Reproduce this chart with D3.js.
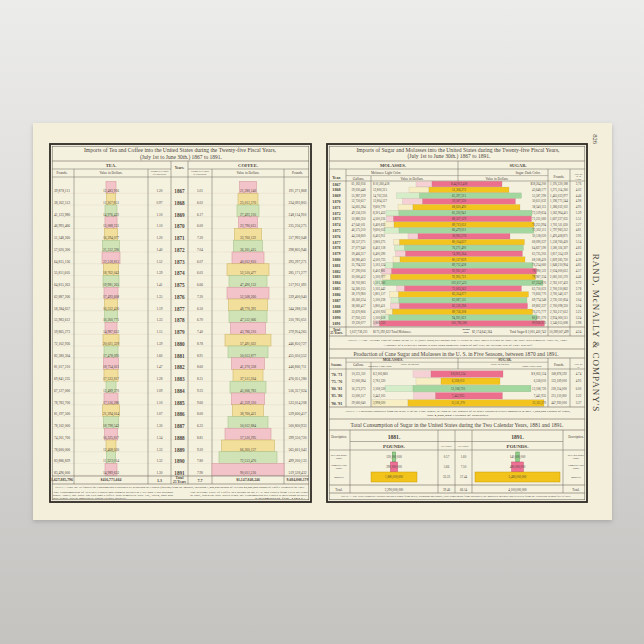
<!DOCTYPE html>
<html>
<head>
<meta charset="utf-8">
<title>Imports of Tea, Coffee, Sugar and Molasses</title>
<style>
  body { margin: 0; background: #d8d7d5; }
  svg { display: block; }
  text { font-family: "Liberation Serif", "DejaVu Serif", serif; }
</style>
</head>
<body>
<div id="chart"></div>
<script src="https://d3js.org/d3.v7.min.js"></script>
<script>
// ---------- data: tea and coffee ----------
var years = [1867, 1868, 1869, 1870, 1871, 1872, 1873, 1874, 1875, 1876, 1877, 1878, 1879,
             1880, 1881, 1882, 1883, 1884, 1885, 1886, 1887, 1888, 1889, 1890, 1891];

var teaPounds = [39878111, 38162513, 41123980, 46993466, 51348260, 57020300, 64815136, 55811605,
                 64815263, 62887206, 58384657, 55983612, 59865273, 72162936, 82380304, 81017210,
                 69841235, 67127000, 78783700, 81197500, 78102000, 74201700, 78600000, 83886829, 83496000];
var teaValue = [12483916, 11307851, 14976422, 15088231, 16294077, 21312596, 22518813, 18762043,
                19981265, 17493608, 16312430, 16260771, 14987653, 20021329, 17478095, 18754021,
                17533817, 12489370, 17516286, 21294014, 18798542, 16325817, 12468030, 11323014, 14989653];
var teaPerCap = ["1.20", "0.97", "1.10", "1.10", "1.20", "1.40", "1.52", "1.39", "1.41", "1.35", "1.19",
                 "1.33", "1.15", "1.39", "1.60", "1.47", "1.28", "1.09", "1.10", "1.07", "1.30", "1.34",
                 "1.33", "1.32", "1.30"];
var coffeeValue = [21280140, 25011370, 27493210, 23790615, 33760122, 36301415, 40012810, 52510477,
                   47490133, 52508260, 48770391, 47512066, 43786210, 57491022, 50013877, 41270338,
                   37511264, 45006783, 41259310, 38760421, 50012884, 57510295, 66260137, 72513470, 90011226];
var coffeePerCap = ["5.01", "6.02", "6.17", "6.00", "7.20", "7.04", "6.07", "6.03", "6.66", "7.20", "6.50",
                    "6.70", "7.40", "8.78", "8.91", "8.60", "8.31", "9.23", "9.60", "8.00", "6.23", "8.81",
                    "9.20", "7.80", "7.90"];
var coffeePounds = [191271868, 234093805, 248114910, 235256275, 317992048, 298805946, 293297271,
                    285171277, 317911093, 339400040, 344288150, 310785051, 379954265, 446850727,
                    455050552, 446860711, 476051280, 516357024, 533014208, 529600417, 500800933,
                    399550720, 565601043, 499200133, 519528432];
var totalPerCap = ["1.3", "7.7"];

// ---------- data: sugar and molasses imports ----------
var molGallons = [61183056, 59030448, 55987259, 52750617, 54605284, 49556130, 50880350, 47040011,
                  46575210, 44558600, 38557371, 37077640, 39466317, 38980403, 35794232, 37290016,
                  30000412, 28702083, 34260155, 38170960, 38360224, 38060417, 33670806, 27950133, 19230077];
var molValue = [10260418, 12800315, 14702236, 12804127, 9600770, 8301452, 4500216, 6400833,
                9600012, 6403911, 3800275, 6402118, 6400590, 4500733, 5103124, 6402881,
                5100977, 5101360, 5102442, 5801117, 5100238, 5800411, 4500926, 5100618, 3800522];
var sugValue = [44912418, 51306273, 65397215, 59587330, 68620493, 85320941, 88507129, 89713052,
                86479031, 58961276, 80104637, 76271490, 74985364, 80127839, 89712438, 92931507,
                92905721, 102617431, 75003562, 83314077, 82087511, 82120396, 89736208, 94931023, 105796380];
var sugDark = [38264200, 43648177, 55587290, 50611032, 58340115, 72519834, 75231060, 76255994,
               73502111, 50118020, 68090337, 64827590, 63735203, 68108420, 76254060, 78990122,
               78967334, 87224870, 63750023, 70816770, 69774348, 69802337, 76275777, 80691370, 89926923];
var sugPounds = [1195320188, 1275114260, 1465023977, 1196771344, 1386032102, 1583904411, 1607227035,
                 1702511630, 1797983312, 1493408871, 1558760420, 1580116307, 1817554119, 1829385720,
                 1848210904, 2034000612, 2081301570, 2762107433, 2700310862, 2700540117, 2730110824,
                 2700098350, 2763217612, 2934000511, 3546055008];
var sugPrice = ["3.76", "4.02", "4.46", "4.98", "4.95", "5.39", "5.51", "5.27", "4.81", "3.95", "5.14",
                "4.83", "4.13", "4.38", "4.85", "4.57", "4.46", "3.72", "2.78", "3.09", "3.04", "3.04",
                "3.25", "3.24", "2.98"];

// ---------- data: cane sugar production ----------
var seasons = ["'70-'71", "'75-'76", "'80-'81", "'85-'86", "'90-'91"];
var prodGallons = [10125110, 12000384, 16573273, 13000517, 29060040];
var prodMolValue = [2003860, 2781330, 3108520, 2442105, 3998020];
var prodSugValue = [8003124, 6558010, 13108720, 7441935, 15111270];
var prodPounds = [168878592, 133109000, 218314000, 231110000, 447930000];
var prodPrice = ["4.74", "4.93", "6.00", "3.22", "3.37"];

// ---------- data: consumption 1881 / 1891 ----------
var consYears = ["1881.", "1891."];
var consCats = ["Beet and Maple Sugar.", "Domestic Cane Sugar.", "Imported."];
var cons1881 = [120000000, 290000000, 1880000000];
var cons1891 = [140000000, 480000000, 3480000000];
var perCap1881 = ["0.57", "5.66", "33.23"];
var perCap1891 = ["1.60", "7.50", "57.44"];
var perCapTotal = ["39.46", "66.54"];

// ---------- page ----------
var width = 644, height = 644;
var ink = "#4a443b";
var fmt = d3.format(",");
var pastel = [["#f2c3c8", "#d79ca4"], ["#f2df9c", "#cdb76a"], ["#d0e3b7", "#a8c58d"]];
var strong = [["#ec6f8d", "#f5d0d5"], ["#f3c41e", "#f7eec4"], ["#a2d79f", "#d6edca"]];

var svg = d3.select('#chart').append('svg')
    .attr('width', width)
    .attr('height', height);

var defs = svg.append('defs');
var bg = defs.append('linearGradient').attr('id', 'bg').attr('x1', 0).attr('y1', 0).attr('x2', 0).attr('y2', 1);
bg.append('stop').attr('offset', '0%').attr('stop-color', '#ececeb');
bg.append('stop').attr('offset', '100%').attr('stop-color', '#c5c3c0');
var sh = defs.append('filter').attr('id', 'shadow').attr('x', '-5%').attr('y', '-5%').attr('width', '110%').attr('height', '115%');
sh.append('feDropShadow').attr('dx', 0).attr('dy', 2).attr('stdDeviation', 2).attr('flood-color', '#888').attr('flood-opacity', 0.5);

svg.append('rect').attr('width', width).attr('height', height).attr('fill', 'url(#bg)');
svg.append('rect').attr('x', 33).attr('y', 123).attr('width', 579).attr('height', 397)
    .attr('fill', '#f3efdb').attr('filter', 'url(#shadow)');

function t(g, x, y, s, size, opt) {
    opt = opt || {};
    var el = g.append('text').attr('x', x).attr('y', y)
        .attr('font-size', size)
        .attr('text-anchor', opt.anchor || 'middle')
        .attr('dominant-baseline', 'central')
        .attr('fill', opt.fill || ink)
        .text(s);
    if (opt.bold) el.attr('font-weight', 'bold');
    if (opt.italic) el.attr('font-style', 'italic');
    if (opt.len) el.attr('textLength', opt.len).attr('lengthAdjust', 'spacingAndGlyphs');
    return el;
}
function hl(g, x0, x1, y, w, c) {
    g.append('line').attr('x1', x0).attr('x2', x1).attr('y1', y).attr('y2', y)
        .attr('stroke', c || '#6b6458').attr('stroke-width', w || 0.5);
}
function vl(g, x, y0, y1, w, c) {
    g.append('line').attr('x1', x).attr('x2', x).attr('y1', y0).attr('y2', y1)
        .attr('stroke', c || '#6b6458').attr('stroke-width', w || 0.5);
}
function frame(g, x0, y0, x1, y1) {
    g.append('rect').attr('x', x0).attr('y', y0).attr('width', x1 - x0).attr('height', y1 - y0)
        .attr('fill', '#f5f1df').attr('stroke', '#2e2a24').attr('stroke-width', 1.8);
    g.append('rect').attr('x', x0 + 2.2).attr('y', y0 + 2.2).attr('width', x1 - x0 - 4.4).attr('height', y1 - y0 - 4.4)
        .attr('fill', 'none').attr('stroke', '#5a544a').attr('stroke-width', 0.5);
}

// ================= LEFT PANEL: tea and coffee =================
var left = svg.append('g');
var L = {x0: 50, x1: 311, y0: 144, y1: 502};
frame(left, L.x0, L.y0, L.x1, L.y1);
var lcol = {pounds: 62, tea: 111, teaCap: 159.5, year: 179.5, cofCap: 200, coffee: 248, cofPounds: 297.5};
var lv = [74, 148, 171, 188, 212, 284];

t(left, 180, 150, "Imports of Tea and Coffee into the United States during the Twenty-five Fiscal Years,", 5.2, {len: 192});
t(left, 181, 156.5, "(July 1st to June 30th.) 1867 to 1891.", 5.2, {len: 82});
hl(left, L.x0 + 2, L.x1 - 2, 161, 0.6);
t(left, 111, 165, "TEA.", 4.6, {bold: true});
t(left, 248, 165, "COFFEE.", 4.6, {bold: true});
hl(left, L.x0 + 2, 171, 169, 0.5);
hl(left, 188, L.x1 - 2, 169, 0.5);
t(left, 179.5, 168, "Years.", 3.6, {bold: true});
t(left, lcol.pounds, 173, "Pounds.", 3.4);
t(left, lcol.tea, 173, "Value in Dollars.", 3.4);
t(left, lcol.teaCap, 171.8, "Pounds Per Capita", 2.4);
t(left, lcol.teaCap, 174.6, "of Population.", 2.4);
t(left, lcol.cofCap, 171.8, "Pounds Per Capita", 2.4);
t(left, lcol.cofCap, 174.6, "of Population.", 2.4);
t(left, lcol.coffee, 173, "Value in Dollars.", 3.4);
t(left, lcol.cofPounds, 173, "Pounds.", 3.4);
hl(left, L.x0 + 2, L.x1 - 2, 177, 0.5);

var lRow = d3.scaleBand().domain(years).range([181.5, 475.25]);
var lx = d3.scaleLinear().domain([0, 90e6]).range([0, 72]);

// faint row rules
years.forEach(function (yr) {
    hl(left, L.x0 + 3, L.x1 - 3, lRow(yr) + lRow.bandwidth(), 0.35, '#ddd6c2');
});
lv.forEach(function (x, i) {
    if (i === 2 || i === 3) vl(left, x, 161, 484, 0.5);
    else vl(left, x, 169, 484, 0.5);
});

function tableBars(g, values, cx, pal) {
    g.selectAll(null).data(values).enter().append('rect')
        .attr('x', function (d) { return cx - lx(d) / 2; })
        .attr('y', function (d, i) { return lRow(years[i]); })
        .attr('width', function (d) { return lx(d); })
        .attr('height', lRow.bandwidth())
        .attr('fill', function (d, i) { return pal[i % 3][0]; })
        .attr('stroke', function (d, i) { return pal[i % 3][1]; })
        .attr('stroke-width', 0.6);
}
tableBars(left, teaValue, lcol.tea, pastel);
tableBars(left, coffeeValue, lcol.coffee, pastel);

years.forEach(function (yr, i) {
    var yc = lRow(yr) + 9.5;
    t(left, lcol.pounds, yc, fmt(teaPounds[i]), 3.6);
    t(left, lcol.tea, yc, fmt(teaValue[i]), 3.6);
    t(left, lcol.teaCap, yc, teaPerCap[i], 3.4);
    t(left, lcol.year, yc, yr, 5.2, {bold: true});
    t(left, lcol.cofCap, yc, coffeePerCap[i], 3.4);
    t(left, lcol.coffee, yc, fmt(coffeeValue[i]), 3.6);
    t(left, lcol.cofPounds, yc, fmt(coffeePounds[i]), 3.6);
});

hl(left, L.x0 + 2, L.x1 - 2, 476, 0.6);
t(left, lcol.pounds, 480, fmt(d3.sum(teaPounds)), 3.8, {bold: true});
t(left, lcol.tea, 480, "$" + fmt(d3.sum(teaValue)), 3.8, {bold: true});
t(left, lcol.teaCap, 480, totalPerCap[0], 4, {bold: true});
t(left, lcol.year, 478, "Total", 3.6, {bold: true});
t(left, lcol.year, 482, "25 Years", 3.6, {bold: true});
t(left, lcol.cofCap, 480, totalPerCap[1], 4, {bold: true});
t(left, lcol.coffee, 480, "$" + fmt(d3.sum(coffeeValue)), 3.8, {bold: true});
t(left, lcol.cofPounds, 480, fmt(d3.sum(coffeePounds)), 3.8, {bold: true});
hl(left, L.x0 + 2, L.x1 - 2, 484, 0.6);

t(left, 180, 487, "NOTE.—Only the 1st figures for Consumption is obtained by deducting the exports (foreign) from the imports, including 1,000,000 pounds of Tea and 40,000,000 pounds of Coffee estimated for 1891.", 2.6, {len: 250});
t(left, 113, 492, "The consumption of Tea per Capita has ranged between 1.07 and 1.60 pounds", 2.4, {len: 120});
t(left, 113, 495, "since 1867; the duty on Tea and Coffee was removed July 1st, 1872, and has", 2.4, {len: 120});
t(left, 90, 498, "not since been imposed upon either article.", 2.4, {len: 74});
t(left, 249, 492, "The average Price of Coffee per pound in the U. S. has varied from 10 to 20 cents", 2.4, {len: 118});
t(left, 249, 495, "in 1867, when the duty was 5 cents; the Consumption per Capita is increasing steadily.", 2.4, {len: 118});
t(left, 280, 498, "Estimated for 1891.", 2.4, {len: 50});

// ================= RIGHT PANEL: sugar and molasses =================
var right = svg.append('g');
var R = {x0: 327, x1: 587, y0: 144, y1: 502};
frame(right, R.x0, R.y0, R.x1, R.y1);
var rc = {year: 336.5, gal: 358.5, molVal: 373, mid: 459, sugVal: 546, pounds: 559, price: 578.5};

t(right, 458, 149.5, "Imports of Sugar and Molasses into the United States during the Twenty-five Fiscal Years,", 5.2, {len: 203});
t(right, 449, 155.5, "(July 1st to June 30th.) 1867 to 1891.", 5.2, {len: 83});
hl(right, R.x0 + 2, R.x1 - 2, 161, 0.6);
t(right, 393, 165, "MOLASSES.", 4.6, {bold: true});
t(right, 518, 165, "SUGAR.", 4.6, {bold: true});
vl(right, 458, 161, 181, 0.5);
hl(right, R.x0 + 2, R.x1 - 2, 169, 0.5);
t(right, rc.year, 177, "Year.", 4, {bold: true});
t(right, 386, 172.8, "Molasses: Light Color.", 3.3);
hl(right, 346, 548, 175.6, 0.4);
t(right, 528, 172.8, "Sugar: Dark Color.", 3.3);
t(right, rc.gal, 178.6, "Gallons.", 3.4);
t(right, 412, 178.6, "Value in Dollars.", 3.4);
t(right, 497, 178.6, "Value in Dollars.", 3.4);
t(right, rc.pounds, 177, "Pounds.", 3.4);
t(right, rc.price, 173.5, "Price per", 2.3);
t(right, rc.price, 176.2, "lb. in", 2.3);
t(right, rc.price, 178.9, "Cents.", 2.3);
hl(right, R.x0 + 2, R.x1 - 2, 181, 0.5);

var rRow = d3.scaleBand().domain(years).range([181.1, 326.35]);
var rx = d3.scaleLinear().domain([0, 100e6]).range([0, 156]);

vl(right, 346, 169, 336, 0.5);
vl(right, 371, 176, 327, 0.5);
vl(right, 548, 169, 336, 0.5);
vl(right, 570, 169, 336, 0.5);

var sugRows = years.map(function (yr, i) { return {year: yr, mol: molValue[i], sug: sugValue[i], i: i}; });
function pairBars(g, rows, band, x, cx, keyOf, hgt) {
    var sel = g.selectAll(null).data(rows).enter();
    sel.append('rect')
        .attr('x', function (d) { return cx - (x(d.mol) + x(d.sug)) / 2; })
        .attr('y', function (d) { return band(keyOf(d)) + (band.bandwidth() - hgt) / 2; })
        .attr('width', function (d) { return x(d.mol); })
        .attr('height', hgt)
        .attr('fill', function (d) { return strong[d.i % 3][1]; })
        .attr('stroke', 'rgba(120,100,80,0.35)').attr('stroke-width', 0.3);
    sel.append('rect')
        .attr('x', function (d) { return cx - (x(d.mol) + x(d.sug)) / 2 + x(d.mol); })
        .attr('y', function (d) { return band(keyOf(d)) + (band.bandwidth() - hgt) / 2; })
        .attr('width', function (d) { return x(d.sug); })
        .attr('height', hgt)
        .attr('fill', function (d) { return strong[d.i % 3][0]; })
        .attr('stroke', 'rgba(120,100,80,0.35)').attr('stroke-width', 0.3);
}
pairBars(right, sugRows, rRow, rx, rc.mid, function (d) { return d.year; }, 5.5);

years.forEach(function (yr, i) {
    var yc = rRow(yr) + rRow.bandwidth() / 2;
    t(right, rc.year, yc, yr, 4.2, {bold: true});
    t(right, rc.gal, yc, fmt(molGallons[i]), 3.1);
    t(right, rc.molVal, yc, (i === 0 ? "$ " : "") + fmt(molValue[i]), 3.1, {anchor: 'start'});
    t(right, rc.mid, yc, (i === 0 ? "$ " : "") + fmt(sugValue[i]), 3.1);
    t(right, rc.sugVal, yc, (i === 0 ? "$" : "") + fmt(sugDark[i]), 3.1, {anchor: 'end'});
    t(right, rc.pounds, yc, fmt(sugPounds[i]), 3.1);
    t(right, rc.price, yc, sugPrice[i], 3.1);
});

hl(right, R.x0 + 2, R.x1 - 2, 327, 0.6);
t(right, rc.year, 329.6, "Total", 3.3, {bold: true});
t(right, rc.year, 333.2, "25 Years.", 3.3, {bold: true});
t(right, rc.gal, 331.5, fmt(d3.sum(molGallons)), 3.2);
t(right, rc.molVal, 331.5, "$" + fmt(d3.sum(molValue)) + " Total Molasses.", 3.2, {anchor: 'start'});
t(right, 466, 329.8, "Grand", 2.6, {bold: true});
t(right, 466, 332.6, "Total", 2.6, {bold: true});
t(right, 472, 331.5, "$" + fmt(d3.sum(molValue) + d3.sum(sugValue)), 3.2, {anchor: 'start'});
t(right, rc.sugVal, 331.5, "Total Sugar $ " + fmt(d3.sum(sugValue)), 3.2, {anchor: 'end'});
t(right, rc.pounds, 331.5, fmt(d3.sum(sugPounds)), 3.1);
t(right, rc.price, 331.5, "4.24", 3.2);
hl(right, R.x0 + 2, R.x1 - 2, 336, 0.6);
t(right, 458, 340.8, "NOTE.—The Average Cost of Sugar in the U. S. (duty paid) per pound was 13 cents in 1867 and 6.5 cents in 1891; the duty was removed April 1st, 1891.", 2.6, {len: 220});
t(right, 458, 345.5, "A Bounty of 2 cents per pound is paid upon domestic Sugar of 90° test; the average test of 1891 was 96°.", 2.6, {len: 150});
hl(right, R.x0 + 2, R.x1 - 2, 349, 0.6);

// ---------- production ----------
t(right, 456, 353.5, "Production of Cane Sugar and Molasses in the U. S. in Five Seasons, between 1870 and 1891.", 5.4, {len: 205});
hl(right, R.x0 + 2, R.x1 - 2, 358, 0.6);
t(right, 393, 360.4, "MOLASSES.", 3.6, {bold: true});
t(right, 505, 360.4, "SUGAR.", 3.6, {bold: true});
hl(right, 346, 548, 362.2, 0.4);
t(right, rc.year, 364.5, "Seasons.", 3, {bold: true});
t(right, rc.gal, 365.2, "Gallons.", 3.2);
t(right, 410, 364, "Value in Dollars.", 2.8);
t(right, 380, 366.8, "Molasses: Light Color.", 2.6);
t(right, 500, 364, "Value in Dollars.", 2.8);
t(right, 532, 366.8, "Sugar: Dark Color.", 2.6);
t(right, rc.pounds, 365.2, "Pounds.", 3.2);
t(right, rc.price, 364, "Price per", 2.3);
t(right, rc.price, 366.6, "lb.", 2.3);
hl(right, R.x0 + 2, R.x1 - 2, 369, 0.5);
vl(right, 346, 358, 407, 0.5);
vl(right, 371, 362, 407, 0.5);
vl(right, 458, 358, 369, 0.5);
vl(right, 548, 358, 407, 0.5);
vl(right, 570, 358, 407, 0.5);

var pRow = d3.scaleBand().domain(seasons).range([370.4, 406.65]);
var px = d3.scaleLinear().domain([0, 10e6]).range([0, 90]);
var prodRows = seasons.map(function (s, i) { return {season: s, mol: prodMolValue[i], sug: prodSugValue[i], i: i}; });
pairBars(right, prodRows, pRow, px, 458, function (d) { return d.season; }, 6.6);

seasons.forEach(function (s, i) {
    var yc = pRow(s) + pRow.bandwidth() / 2;
    t(right, rc.year, yc, s, 4, {bold: true});
    t(right, rc.gal, yc, fmt(prodGallons[i]), 3.1);
    t(right, rc.molVal, yc, (i === 0 ? "$ " : "") + fmt(prodMolValue[i]), 3.1, {anchor: 'start'});
    t(right, 458, yc, (i === 0 ? "$ " : "") + fmt(prodSugValue[i]), 3.1);
    t(right, rc.sugVal, yc, (i === 0 ? "$ " : "") + fmt(prodSugValue[i]), 3.1, {anchor: 'end'});
    t(right, rc.pounds, yc, fmt(prodPounds[i]), 3.1);
    t(right, rc.price, yc, prodPrice[i], 3.1);
});
hl(right, R.x0 + 2, R.x1 - 2, 407, 0.6);
t(right, 458, 411, "NOTE.—Louisiana produces from 92 to 95 % of the Cane Sugar; in 1890-91 the product of all other Southern States amounted to only 7,000,000 Pounds of Sugar,", 2.6, {len: 225});
t(right, 458, 415.5, "and 4,000,000 Gallons of Molasses.", 2.6, {len: 62});
hl(right, R.x0 + 2, R.x1 - 2, 419, 0.6);

// ---------- consumption ----------
t(right, 457, 424.5, "Total Consumption of Sugar in the United States during the Two Calendar Years, 1881 and 1891.", 5.4, {len: 213});
hl(right, R.x0 + 2, R.x1 - 2, 430, 0.6);
var cc = {desc: 339, y81: 394, cap81: 446.5, cap91: 463.5, y91: 517.5, desc2: 576};
t(right, cc.desc, 437, "Description.", 3.2);
t(right, cc.y81, 437, consYears[0], 5.6, {bold: true});
t(right, cc.y91, 437, consYears[1], 5.6, {bold: true});
t(right, cc.desc2, 437, "Description.", 3.2);
hl(right, 350, 563, 441.5, 0.5);
t(right, cc.y81, 446, "POUNDS.", 5, {bold: true});
t(right, cc.y91, 446, "POUNDS.", 5, {bold: true});
t(right, cc.cap81, 446, "Per Capita.", 2.4);
t(right, cc.cap91, 446, "Per Capita.", 2.4);
hl(right, R.x0 + 2, R.x1 - 2, 450, 0.5);
[350, 438, 455, 472, 563].forEach(function (x) { vl(right, x, 430, 493, 0.5); });

var cRow = d3.scaleBand().domain(consCats).range([452, 482]);
var cx = d3.scaleLinear().domain([0, 3480e6]).range([0, 85]);
var consPal = [["#8fcf8a", "#4f8f4b"], ["#ee7095", "#c24c6e"], ["#f2c31a", "#c79b0e"]];
[[cons1881, cc.y81], [cons1891, cc.y91]].forEach(function (pair) {
    right.selectAll(null).data(pair[0]).enter().append('rect')
        .attr('x', function (d) { return pair[1] - cx(d) / 2; })
        .attr('y', function (d, i) { return cRow(consCats[i]); })
        .attr('width', function (d) { return cx(d); })
        .attr('height', cRow.bandwidth())
        .attr('fill', function (d, i) { return consPal[i][0]; })
        .attr('stroke', function (d, i) { return consPal[i][1]; })
        .attr('stroke-width', 0.5);
});
consCats.forEach(function (c, i) {
    var yc = cRow(c) + cRow.bandwidth() / 2;
    var words = c.split(" ");
    var l1 = words.length > 1 ? words.slice(0, words.length - 1).join(" ") : c;
    var l2 = words.length > 1 ? words[words.length - 1] : "";
    [cc.desc, cc.desc2].forEach(function (x) {
        if (l2) { t(right, x, yc - 1.5, l1, 2.6); t(right, x, yc + 1.5, l2, 2.6); }
        else t(right, x, yc, l1, 2.6);
    });
    t(right, cc.y81, yc, fmt(cons1881[i]), 3.1);
    t(right, cc.y91, yc, fmt(cons1891[i]), 3.1);
    t(right, cc.cap81, yc, perCap1881[i], 3.1);
    t(right, cc.cap91, yc, perCap1891[i], 3.1);
});
hl(right, R.x0 + 2, R.x1 - 2, 485, 0.6);
t(right, cc.desc, 489.5, "Total.", 3.2);
t(right, cc.y81, 489.5, fmt(d3.sum(cons1881)), 3.2);
t(right, cc.cap81, 489.5, perCapTotal[0], 3.1);
t(right, cc.cap91, 489.5, perCapTotal[1], 3.1);
t(right, cc.y91, 489.5, fmt(d3.sum(cons1891)), 3.2);
t(right, cc.desc2, 489.5, "Total.", 3.2);
hl(right, R.x0 + 2, R.x1 - 2, 493, 0.6);
t(right, 456, 496.5, "NOTE.—The Total Domestic Product includes Sugar from Beets, Sorghum and Maple, also Sugar made from Molasses; the imported includes that received from the Hawaiian Islands free of duty.", 2.4, {len: 230});

// ---------- margin text ----------
svg.append('text').attr('transform', 'translate(595,139) rotate(90)')
    .attr('font-size', 6.5).attr('text-anchor', 'middle').attr('dominant-baseline', 'central')
    .attr('fill', ink).text("826");
svg.append('text').attr('transform', 'translate(596,333) rotate(90)')
    .attr('font-size', 9).attr('letter-spacing', 1).attr('text-anchor', 'middle')
    .attr('dominant-baseline', 'central').attr('fill', ink)
    .text("RAND, McNALLY & COMPANY'S");
</script>
</body>
</html>
